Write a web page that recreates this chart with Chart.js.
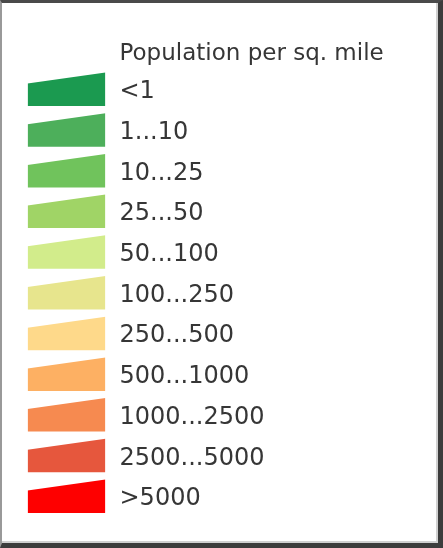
<html lang="en">
<head>
    <meta charset="UTF-8">
    <title>Population per sq. mile</title>
    <style>
        html, body {
            margin: 0;
            padding: 0;
            background: #fff;
        }
        #wrap {
            position: relative;
            width: 443px;
            height: 548px;
        }
        #viz {
            position: absolute;
            left: 0;
            top: 0;
        }
        #frame {
            position: absolute;
            left: 0;
            top: 0;
            width: 443px;
            height: 548px;
            box-sizing: border-box;
            border-top: 3px solid #4a4a4a;
            border-left: 2px solid #999;
            border-right: 5px solid #3c3c3c;
            border-bottom: 5px solid #3c3c3c;
            box-shadow: inset -2px -2px 0 #d0d0d0;
            pointer-events: none;
        }
    </style>
    <script src="https://cdn.jsdelivr.net/npm/chart.js"></script>
</head>
<body>
    <div id="wrap">
        <canvas id="viz" width="443" height="548"></canvas>
        <div id="frame"></div>
    </div>

    <script>
        const legendTitle = 'Population per sq. mile'
        const classLabels = ['<1', '1...10', '10...25', '25...50', '50...100', '100...250',
            '250...500', '500...1000', '1000...2500', '2500...5000', '>5000']
        const classColors = ['#1b9a50', '#4daf5b', '#70c35c', '#a0d466', '#d2ec8b', '#e7e58d',
            '#fed98a', '#fdb063', '#f68a50', '#e6573d', '#fe0000']

        // swatch shape inside one row (row top = 0, row bottom = 1)
        const swatchTopLeft = 0.34
        const swatchTopRight = 0.07
        const swatchBottom = 0.893
        const textColor = '#363636'

        const datasets = classLabels.map((label, i) => ({
            label: label,
            data: [
                { x: 0, y: i + swatchTopLeft },
                { x: 1, y: i + swatchTopRight }
            ],
            fill: { value: i + swatchBottom },
            backgroundColor: classColors[i],
            borderColor: 'transparent',
            borderWidth: 0,
            pointRadius: 0,
            tension: 0
        }))

        const titlePlugin = {
            id: 'legendTitle',
            afterDraw(chart) {
                const s = chart.scales.labels
                const ctx = chart.ctx
                ctx.save()
                ctx.font = '23px "DejaVu Sans"'
                ctx.fillStyle = textColor
                ctx.textAlign = 'left'
                ctx.textBaseline = 'alphabetic'
                ctx.fillText(legendTitle, s.left + s.options.ticks.padding, 60)
                ctx.restore()
            }
        }

        const chart = new Chart(document.getElementById('viz'), {
            type: 'line',
            data: { datasets },
            options: {
                responsive: false,
                animation: false,
                events: [],
                layout: {
                    padding: { left: 27.5, top: 69.65, bottom: 30.65, right: 0 }
                },
                plugins: {
                    legend: { display: false },
                    tooltip: { enabled: false },
                    title: { display: false }
                },
                scales: {
                    x: { type: 'linear', min: 0, max: 1, display: false },
                    y: { type: 'linear', min: 0, max: classLabels.length, reverse: true, display: false },
                    labels: {
                        type: 'category',
                        position: 'right',
                        labels: classLabels,
                        offset: true,
                        grid: { display: false, drawTicks: false },
                        border: { display: false },
                        ticks: {
                            padding: 14,
                            labelOffset: 2,
                            color: textColor,
                            autoSkip: false,
                            font: { family: '"DejaVu Sans"', size: 24 }
                        },
                        afterFit(scale) {
                            scale.width = 443 - 105.5
                        }
                    }
                }
            },
            plugins: [titlePlugin]
        })
    </script>
</body>
</html>
